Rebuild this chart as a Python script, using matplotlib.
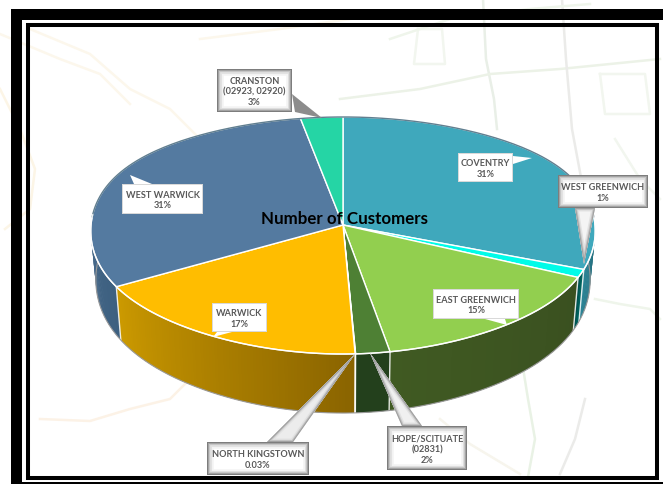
import numpy as np
import matplotlib
matplotlib.use('Agg')
import matplotlib.pyplot as plt
from matplotlib.patches import Polygon, Rectangle
from matplotlib.colors import to_rgb

plt.rcParams['font.family'] = ['Lato', 'DejaVu Sans']

W, H = 663, 485

# slices, clockwise from 12 o'clock
names = ['COVENTRY', 'WEST GREENWICH', 'EAST GREENWICH', 'HOPE/SCITUATE', 'NORTH KINGSTOWN',
         'WARWICK', 'WEST WARWICK', 'CRANSTON']
shares = [31.0, 1.1, 15.1, 2.1, 0.03, 17.4, 30.6, 2.8]
share_labels = ['COVENTRY\n31%', 'WEST GREENWICH\n1%', 'EAST GREENWICH\n15%', 'HOPE/SCITUATE\n(02831)\n2%',
                'NORTH KINGSTOWN\n0.03%', 'WARWICK\n17%', 'WEST WARWICK\n31%', 'CRANSTON\n(02923, 02920)\n3%']
top_colors = ['#3fa8bc', '#00fbe8', '#92cf4f', '#4e8034', '#dfe8d8', '#ffbd00', '#547aa0', '#25d5a5']
# wall shade at the two ends of the slice, going clockwise
wall_a = ['#1c5a68', '#006a66', '#3a5020', '#23401c', '#dfe8d8', '#8a6400', '#3d6080', '#1a9a78']
wall_b = ['#2c8496', '#004f4c', '#405a22', '#23401c', '#dfe8d8', '#cc9a00', '#47698a', '#1a9a78']

# callout box (x0, y0, x1, y1), the two tail base points and the tail tip, in pixels
boxes = [(458, 154, 513, 183), (558, 176, 648, 209), (433, 290, 519, 320), (387, 427, 467, 471),
         (207, 443, 309, 476), (212, 304, 267, 333), (122, 185, 203, 215), (217, 70, 292, 113)]
tail_a = [(513, 157), (575, 209), (485, 320), (402, 427), (267, 443), (217, 333), (134, 185), (292, 95)]
tail_b = [(513, 165), (595, 209), (505, 320), (422, 427), (293, 443), (232, 333), (152, 185), (295, 113)]
tips = [(532, 159), (584, 265), (507, 326), (370, 354), (355, 355), (213, 338), (130, 176), (322, 119)]
grey_box = [False, True, False, True, True, False, False, True]
tail_fill = ['white', '#f4f4f4', 'white', '#f0f0f0', '#ececec', 'white', 'white', '#8c8c8c']

# faint map roads behind the chart
road_x = [[483, 486, 494, 497], [340, 420, 490, 560, 660], [562, 566, 572, 585], [418, 414, 445, 442, 418],
          [600, 645, 650, 605, 600], [585, 575, 560], [520, 528, 535, 528], [0, 20, 35, 30, 5],
          [40, 90, 130, 170, 195], [30, 90, 130, 170, 200], [0, 60, 100, 130], [390, 450, 530, 590],
          [595, 620, 650, 660], [440, 470, 520], [200, 280, 350], [615, 640, 660]]
road_y = [[0, 60, 100, 130], [100, 90, 75, 70, 60], [0, 60, 130, 200], [30, 65, 65, 30, 30],
          [75, 75, 115, 115, 75], [400, 440, 475], [350, 400, 440, 478], [90, 130, 170, 210, 230],
          [420, 422, 410, 400, 375], [30, 55, 90, 110, 140], [35, 60, 75, 105], [40, 20, 10, 5],
          [300, 305, 310, 320], [420, 445, 475], [40, 30, 20], [140, 180, 200]]
road_c = ['#e9efe7', '#ecf2e7', '#ebebe9', '#f2f6ef', '#f2f6ef', '#ebebe9', '#e9f2e5', '#fcf5e6',
          '#fcf2e6', '#fcf7ec', '#fcf7ec', '#eff5eb', '#eff5eb', '#f7f5ed', '#fcf7ec', '#f2f6ef']

cx, cy = 343, 226
rx, ry, persp, persp_x = 252, 117.6, 0.0886, 0.04


def project(ang, drop=False):
    # ang is clockwise from 12 o'clock, front of the disc is a bit nearer
    u, v = np.sin(ang), np.cos(ang)
    x = rx * u / (1 + persp_x * v) * (1 + 0.025 * np.sin(2 * ang) ** 2)
    y = -ry * v / (1 + persp * v)
    if drop:
        return cx + x * 0.98, cy + y * 1.083 + 48.3
    return cx + x, cy + y


def mix(a, b, t):
    a, b = np.array(to_rgb(a)), np.array(to_rgb(b))
    return tuple(a + (b - a) * t)


fig = plt.figure(figsize=(W / 100, H / 100), dpi=100)
ax = fig.add_axes([0, 0, 1, 1])
ax.set_xlim(0, W)
ax.set_ylim(H, 0)
ax.axis('off')

for xs, ys, c in zip(road_x, road_y, road_c):
    ax.plot(xs, ys, color=c, lw=1.8, zorder=1)

edges = np.cumsum([0] + shares) / sum(shares) * 2 * np.pi

# side wall, only the part that faces the viewer
vis0, vis1 = np.radians(83), np.radians(275)
for i in range(len(shares)):
    a0, a1 = max(edges[i], vis0), min(edges[i + 1], vis1)
    if a1 <= a0:
        continue
    n = max(3, int((a1 - a0) / 0.012))
    grid = np.linspace(a0, a1, n)
    for j in range(n - 1):
        # strips overlap by one step so no seams show
        k = min(j + 2, n - 1)
        top = project(grid[[j, k]])
        low = project(grid[[k, j]], True)
        pts = list(zip(top[0], top[1])) + list(zip(low[0], low[1]))
        ax.add_patch(Polygon(pts, fc=mix(wall_a[i], wall_b[i], j / (n - 2)), ec='none', zorder=2))
    if vis0 < edges[i] < vis1:
        ax.plot(*zip(project(edges[i]), project(edges[i], True)), color='white', lw=1, alpha=0.85, zorder=3)

grid = np.linspace(vis0, vis1, 200)
ax.plot(*project(grid, True), color='#9a9a9a', lw=0.8, zorder=3)

# top face
for i in range(len(shares)):
    grid = np.linspace(edges[i], edges[i + 1], max(3, int((edges[i + 1] - edges[i]) / 0.01)))
    px, py = project(grid)
    pts = [(cx, cy)] + list(zip(px, py))
    ax.add_patch(Polygon(pts, fc=top_colors[i], ec='white', lw=1.0, joinstyle='round', zorder=4))

# dark back rim, white front rim
grid = np.linspace(np.radians(-86), np.radians(86), 200)
ax.plot(*project(grid), color='#3a5f74', lw=1.0, alpha=0.8, zorder=5)
grid = np.linspace(vis0, vis1, 200)
ax.plot(*project(grid), color='white', lw=1.0, alpha=0.9, zorder=5)

# callouts
for i in range(len(names)):
    x0, y0, x1, y1 = boxes[i]
    tail = Polygon([tail_a[i], tips[i], tail_b[i]], fc=tail_fill[i], ec='none', zorder=6)
    ax.add_patch(tail)
    if grey_box[i] and tail_fill[i] != '#8c8c8c':
        for lw, g in zip([5, 3, 1.5], ['#e2e2e2', '#c4c4c4', '#a0a0a0']):
            ring = Polygon([tail_a[i], tips[i], tail_b[i]], fc='none', ec=g, lw=lw, zorder=6.1)
            ax.add_patch(ring)
            ring.set_clip_path(tail)
    body = Rectangle((x0, y0), x1 - x0, y1 - y0, fc='white', ec='none', zorder=6.2)
    ax.add_patch(body)
    if grey_box[i]:
        for lw, g in zip([9, 6.5, 4.5, 2.8, 1.4], ['#f4f4f4', '#e2e2e2', '#c6c6c6', '#a2a2a2', '#7c7c7c']):
            ring = Rectangle((x0, y0), x1 - x0, y1 - y0, fc='none', ec=g, lw=lw, joinstyle='miter', zorder=6.3)
            ax.add_patch(ring)
            ring.set_clip_path(body)
    else:
        ring = Rectangle((x0, y0), x1 - x0, y1 - y0, fc='none', ec='#d8d8d8', lw=1.4, joinstyle='miter', zorder=6.3)
        ax.add_patch(ring)
        ring.set_clip_path(body)
    ax.text((x0 + x1) / 2, (y0 + y1) / 2 + 0.5, share_labels[i], ha='center', va='center', fontsize=6.6,
            fontweight='bold', color='#595959', linespacing=1.25, zorder=7)

ax.text(344.5, 219, 'Number of Customers', ha='center', va='center', fontsize=12.2, fontweight='bold',
        color='black', zorder=8)

# outer black bands: top runs off the right edge, right side has none
ax.add_patch(Rectangle((11, 10), W - 11, 11, fc='black', ec='none', zorder=9))
ax.add_patch(Rectangle((11, 10), 11, H - 10, fc='black', ec='none', zorder=9))
ax.add_patch(Rectangle((11, 483), W - 11, 2, fc='black', ec='none', zorder=9))
# inner black frame
ax.add_patch(Rectangle((28, 26), 629, 452.5, fc='none', ec='black', lw=2.9, joinstyle='miter', zorder=9))

fig.savefig('out.png', dpi=100)
